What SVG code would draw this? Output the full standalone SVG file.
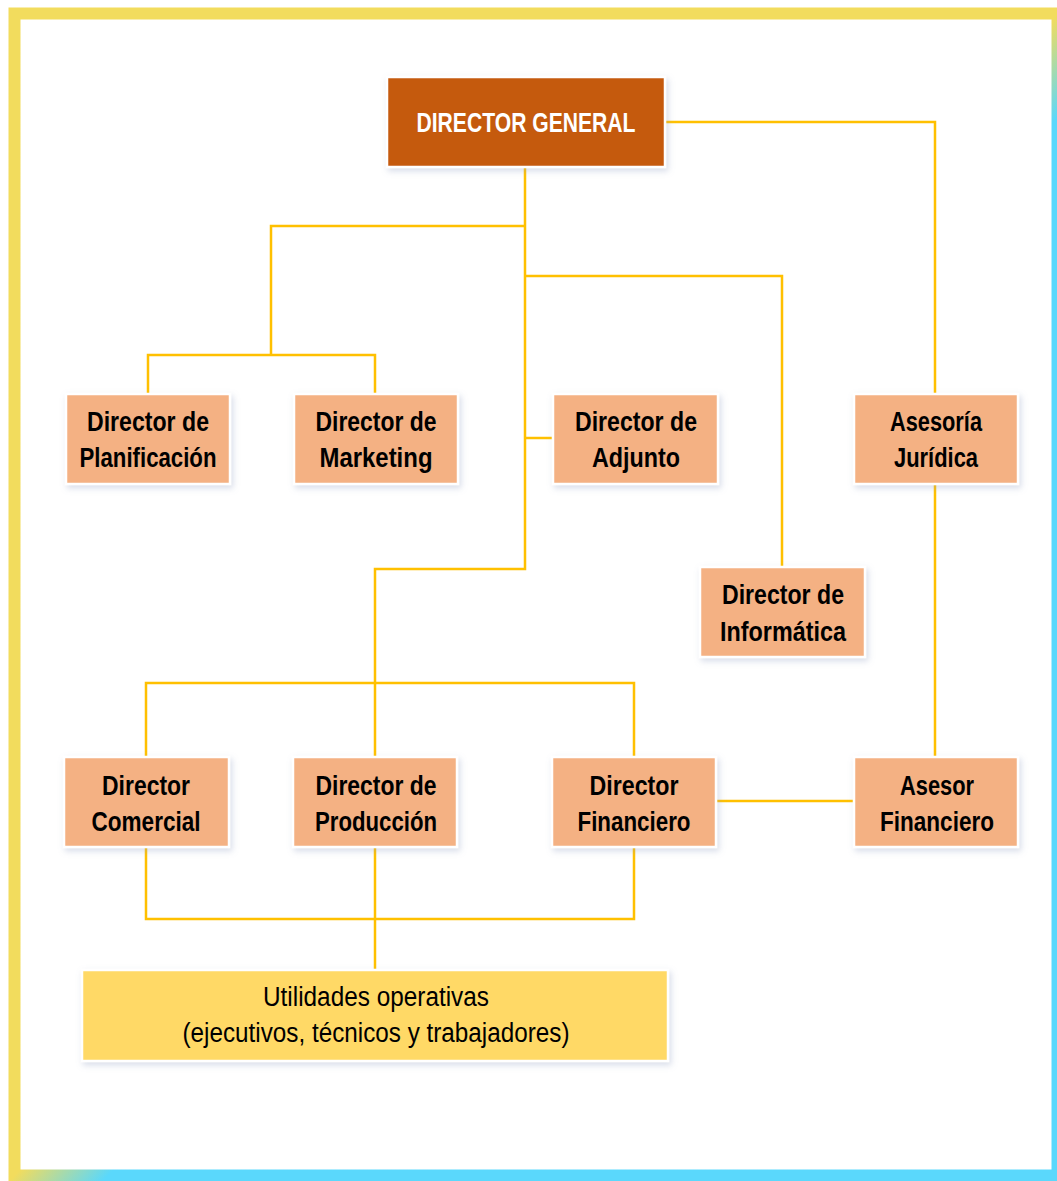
<svg xmlns="http://www.w3.org/2000/svg" width="1057" height="1181" viewBox="0 0 1057 1181">
  <defs>
    <!-- frame colour: yellow top-left, turning cyan past the anti-diagonal -->
    <linearGradient id="frameGrad" x1="0" y1="0" x2="1" y2="1">
      <stop offset="0" stop-color="#f2dc5d"/>
      <stop offset="0.5" stop-color="#f2dc5d"/>
      <stop offset="0.545" stop-color="#5ad8fc"/>
      <stop offset="1" stop-color="#5ad8fc"/>
    </linearGradient>
    <filter id="soft" x="-10%" y="-20%" width="125%" height="150%">
      <feDropShadow dx="2" dy="3" stdDeviation="3" flood-color="#8f9cc0" flood-opacity="0.35"/>
    </filter>
  </defs>
  <style>
    .box { fill: #f4b183; stroke: #ffffff; stroke-width: 2.5; filter: url(#soft); }
    .head { fill: #c55a11; stroke: #ffffff; stroke-width: 2.5; filter: url(#soft); }
    .base { fill: #ffd966; stroke: #ffffff; stroke-width: 2.5; filter: url(#soft); }
    .lbl { font-family: "Liberation Sans", Arial, sans-serif; font-weight: bold; font-size: 27px; fill: #000000; text-anchor: middle; }
    .hlbl { font-family: "Liberation Sans", Arial, sans-serif; font-weight: bold; font-size: 28px; fill: #ffffff; text-anchor: middle; }
    .blbl { font-family: "Liberation Sans", Arial, sans-serif; font-size: 27px; fill: #000000; text-anchor: middle; }
    .wire { fill: none; stroke: #ffc000; stroke-width: 2.5; }
  </style>

  <rect x="0" y="0" width="1057" height="1181" fill="#ffffff"/>
  <rect x="14.5" y="13.5" width="1043" height="1162" fill="none" stroke="url(#frameGrad)" stroke-width="12"/>

  <g id="connectors">
    <path class="wire" d="M665,122 H935 V394"/>
    <path class="wire" d="M525,167 V569 H375 V757"/>
    <path class="wire" d="M525,226 H271 V355"/>
    <path class="wire" d="M148,394 V355 H375 V394"/>
    <path class="wire" d="M525,276 H782 V567"/>
    <path class="wire" d="M525,438 H553"/>
    <path class="wire" d="M146,757 V683 H634 V757"/>
    <path class="wire" d="M935,484 V757"/>
    <path class="wire" d="M716,801 H854"/>
    <path class="wire" d="M146,847 V919 H634 V847"/>
    <path class="wire" d="M375,847 V970"/>
  </g>

  <g id="director-general">
    <rect class="head" x="387" y="77" width="278" height="90"/>
    <text class="hlbl" x="526" y="132" textLength="219" lengthAdjust="spacingAndGlyphs">DIRECTOR GENERAL</text>
  </g>

  <g id="planificacion">
    <rect class="box" x="66" y="394" width="164" height="90"/>
    <text class="lbl" x="148" y="431" textLength="122" lengthAdjust="spacingAndGlyphs">Director de</text>
    <text class="lbl" x="148" y="467" textLength="137" lengthAdjust="spacingAndGlyphs">Planificación</text>
  </g>

  <g id="marketing">
    <rect class="box" x="294" y="394" width="164" height="90"/>
    <text class="lbl" x="376" y="431" textLength="121" lengthAdjust="spacingAndGlyphs">Director de</text>
    <text class="lbl" x="376" y="467" textLength="113" lengthAdjust="spacingAndGlyphs">Marketing</text>
  </g>

  <g id="adjunto">
    <rect class="box" x="553" y="394" width="165" height="90"/>
    <text class="lbl" x="636" y="431" textLength="122" lengthAdjust="spacingAndGlyphs">Director de</text>
    <text class="lbl" x="636" y="467" textLength="88" lengthAdjust="spacingAndGlyphs">Adjunto</text>
  </g>

  <g id="asesoria-juridica">
    <rect class="box" x="854" y="394" width="164" height="90"/>
    <text class="lbl" x="936" y="431" textLength="92" lengthAdjust="spacingAndGlyphs">Asesoría</text>
    <text class="lbl" x="936" y="467" textLength="84" lengthAdjust="spacingAndGlyphs">Jurídica</text>
  </g>

  <g id="informatica">
    <rect class="box" x="700" y="567" width="165" height="90"/>
    <text class="lbl" x="783" y="604" textLength="122" lengthAdjust="spacingAndGlyphs">Director de</text>
    <text class="lbl" x="783" y="641" textLength="126" lengthAdjust="spacingAndGlyphs">Informática</text>
  </g>

  <g id="comercial">
    <rect class="box" x="64" y="757" width="165" height="90"/>
    <text class="lbl" x="146" y="795" textLength="88" lengthAdjust="spacingAndGlyphs">Director</text>
    <text class="lbl" x="146" y="831" textLength="109" lengthAdjust="spacingAndGlyphs">Comercial</text>
  </g>

  <g id="produccion">
    <rect class="box" x="293" y="757" width="164" height="90"/>
    <text class="lbl" x="376" y="795" textLength="121" lengthAdjust="spacingAndGlyphs">Director de</text>
    <text class="lbl" x="376" y="831" textLength="122" lengthAdjust="spacingAndGlyphs">Producción</text>
  </g>

  <g id="financiero">
    <rect class="box" x="552" y="757" width="164" height="90"/>
    <text class="lbl" x="634" y="795" textLength="89" lengthAdjust="spacingAndGlyphs">Director</text>
    <text class="lbl" x="634" y="831" textLength="113" lengthAdjust="spacingAndGlyphs">Financiero</text>
  </g>

  <g id="asesor-financiero">
    <rect class="box" x="854" y="757" width="164" height="90"/>
    <text class="lbl" x="937" y="795" textLength="74" lengthAdjust="spacingAndGlyphs">Asesor</text>
    <text class="lbl" x="937" y="831" textLength="114" lengthAdjust="spacingAndGlyphs">Financiero</text>
  </g>

  <g id="utilidades">
    <rect class="base" x="82" y="970" width="586" height="91"/>
    <text class="blbl" x="376" y="1006" textLength="226" lengthAdjust="spacingAndGlyphs">Utilidades operativas</text>
    <text class="blbl" x="376" y="1042" textLength="387" lengthAdjust="spacingAndGlyphs">(ejecutivos, técnicos y trabajadores)</text>
  </g>
</svg>
